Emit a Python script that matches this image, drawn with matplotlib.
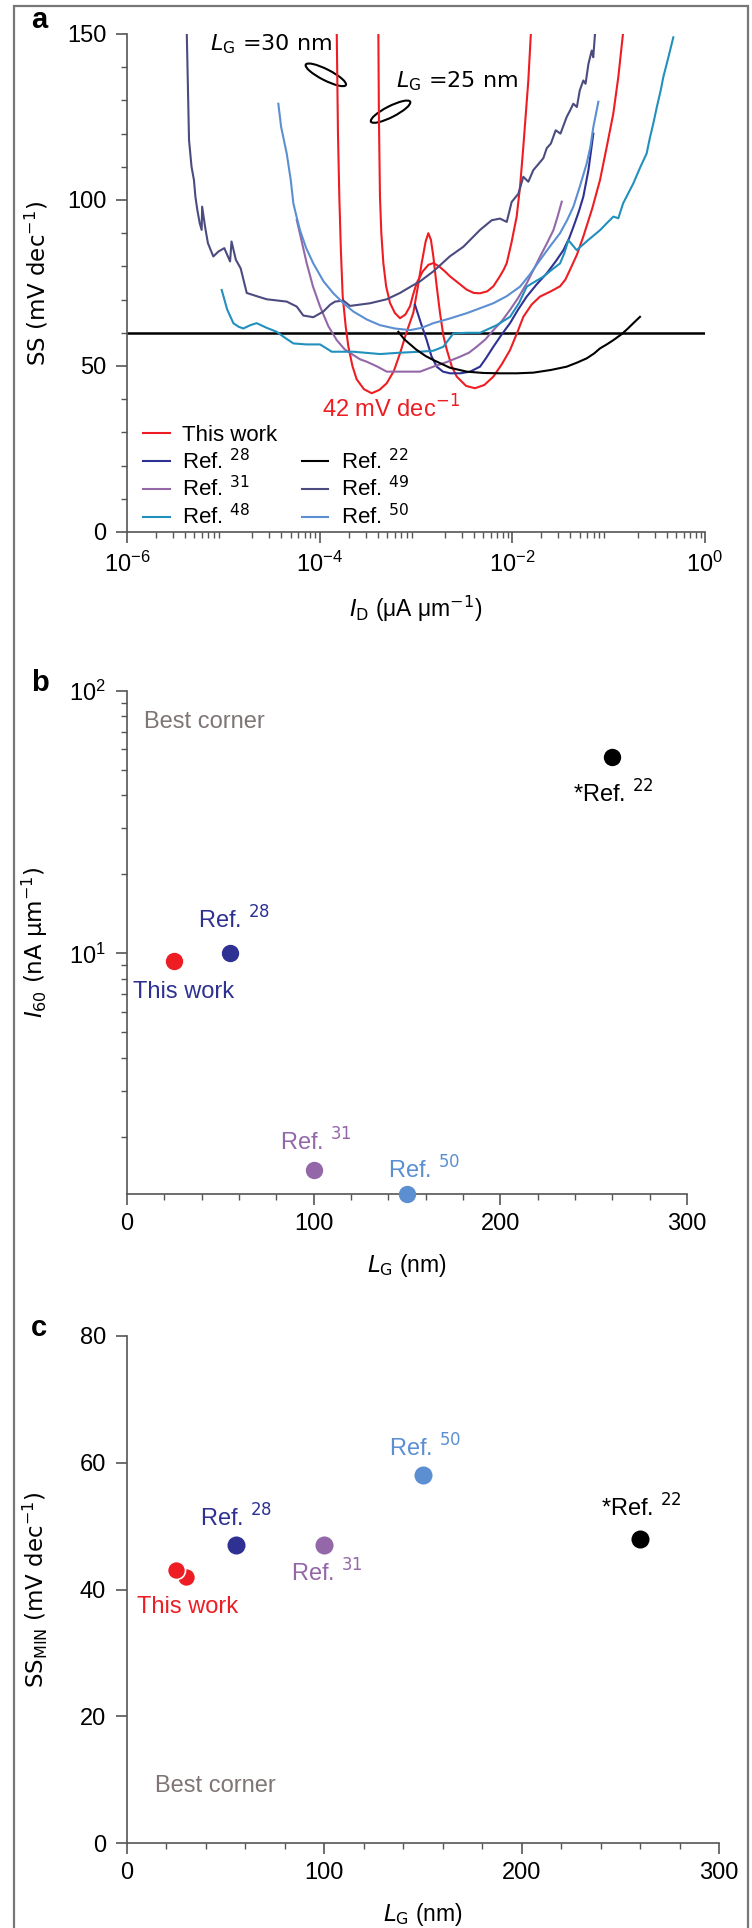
import numpy as np
import matplotlib
matplotlib.use("Agg")
import matplotlib.pyplot as plt
from matplotlib.lines import Line2D
from matplotlib.patches import Ellipse, Rectangle
from matplotlib.ticker import MultipleLocator, LogLocator, NullFormatter, FixedLocator
from matplotlib.transforms import ScaledTranslation


plt.rcParams["font.family"] = ["Liberation Sans", "DejaVu Sans"]
plt.rcParams["mathtext.fontset"] = "dejavusans"

W, H = 752, 1928

# ---------------- panel a : SS vs I_D (log10 of I_D in uA/um) ----------------
this30_logid = [-3.823, -3.81, -3.796, -3.78, -3.761, -3.73, -3.703, -3.66, -3.616, -3.54,
                -3.46, -3.38, -3.304, -3.23, -3.166, -3.10, -3.028, -2.98, -2.941, -2.90,
                -2.872, -2.845, -2.82, -2.785, -2.751, -2.715, -2.681, -2.63, -2.577, -2.48,
                -2.387, -2.29, -2.197, -2.11, -2.024, -1.95, -1.886, -1.80, -1.713, -1.60,
                -1.505, -1.45, -1.401, -1.33, -1.263, -1.17, -1.09, -1.02, -0.952, -0.90, -0.848]
this30_ss = [151, 120, 101, 85, 71, 62, 56, 50, 46, 43,
             41.8, 42.8, 44.8, 48.5, 53.8, 60, 66, 74, 81, 87.5,
             90, 88, 83, 74, 66, 59, 55, 50, 46.8, 44,
             43.3, 44.3, 46.8, 50.5, 54.8, 60, 64.8, 68.5, 70.9, 72.5,
             74, 76, 79, 83.5, 89, 97.5, 106, 116, 126, 137, 151]

this25_logid = [-3.391, -3.385, -3.374, -3.36, -3.339, -3.31, -3.27, -3.22, -3.166, -3.11,
                -3.062, -3.03, -2.993, -2.93, -2.87, -2.82, -2.76, -2.70, -2.647, -2.56,
                -2.474, -2.40, -2.335, -2.26, -2.197, -2.13, -2.09, -2.058, -2.01, -1.955,
                -1.92, -1.886, -1.86, -1.834, -1.806]
this25_ss = [151, 125, 101, 90, 81, 74, 69, 66, 64.4, 65.5,
             68, 71.5, 75, 78.5, 80.5, 81, 80, 78.5, 77, 75,
             73, 72, 71.9, 72.5, 74, 77, 79, 81, 87, 95,
             104, 116, 126, 136, 151]

ref28_logid = [-3.01, -2.95, -2.889, -2.84, -2.785, -2.72, -2.647, -2.54, -2.439, -2.335,
               -2.27, -2.197, -2.11, -2.024, -1.94, -1.851, -1.75, -1.643, -1.55, -1.47,
               -1.41, -1.366, -1.31, -1.263, -1.21, -1.159]
ref28_ss = [68.4, 63, 57.8, 53, 49.8, 48.3, 47.8, 47.8, 48.3, 49.8,
            52.5, 55.8, 59.5, 62.9, 67, 70.9, 74.5, 77.9, 81.5, 84.9,
            88.5, 91.9, 96.5, 101, 109, 120]

ref31_logid = [-4.238, -4.19, -4.135, -4.07, -3.996, -3.91, -3.823, -3.74, -3.65, -3.58,
               -3.512, -3.40, -3.304, -3.13, -2.958, -2.82, -2.68, -2.543, -2.45, -2.37,
               -2.28, -2.197, -2.11, -2.024, -1.94, -1.851, -1.78, -1.713, -1.64, -1.574,
               -1.53, -1.487]
ref31_ss = [94, 88, 81, 74, 67.9, 62, 57.8, 55, 53.3, 52,
            51.3, 49.8, 48.3, 48.3, 48.3, 49.8, 51.2, 52.8, 54, 55.8,
            58, 60.8, 63.5, 66.9, 70.5, 74.9, 79, 82.9, 87, 90.9,
            95, 99.5]

ref48_logid = [-5.017, -4.96, -4.896, -4.84, -4.792, -4.72, -4.654, -4.55, -4.446, -4.36,
               -4.273, -4.14, -3.996, -3.94, -3.875, -3.65, -3.374, -3.17, -2.958, -2.82,
               -2.716, -2.66, -2.612, -2.47, -2.335, -2.162, -2.024, -1.93, -1.851, -1.76,
               -1.678, -1.59, -1.505, -1.46, -1.418, -1.332, -1.21, -1.09, -1.02, -0.951,
               -0.90, -0.85, -0.744, -0.67, -0.606, -0.57, -0.537, -0.50, -0.46, -0.433,
               -0.38, -0.329]
ref48_ss = [72.9, 67, 62.9, 61.8, 61.3, 62.3, 62.9, 61.5, 60.3, 58.5,
            56.8, 56.5, 56.5, 55.5, 54.3, 54.3, 53.6, 54, 54.3, 54.6,
            55.8, 58, 59.8, 60, 60, 62.3, 64.8, 69, 73.9, 75.5,
            76.9, 79, 80.9, 84, 87.9, 84.9, 88, 90.9, 93, 95,
            94.5, 99, 105, 110, 114, 119, 123, 128, 133, 137,
            143, 149]

ref22_logid = [-3.183, -3.12, -3.0, -2.90, -2.82, -2.65, -2.474, -2.30, -2.128, -1.95,
               -1.782, -1.60, -1.436, -1.33, -1.228, -1.15, -1.09, -1.02, -0.951, -0.865,
               -0.80, -0.744, -0.675]
ref22_ss = [60.3, 58, 55, 53, 51.8, 49.5, 48.3, 47.9, 47.8, 47.8,
            48, 48.8, 49.8, 51, 52.3, 53.8, 55.3, 56.5, 57.8, 59.6,
            61.3, 62.9, 64.8]

ref49_logid = [-5.38, -5.356, -5.33, -5.305, -5.29, -5.27, -5.245, -5.225, -5.22, -5.19,
               -5.16, -5.104, -5.05, -4.99, -4.93, -4.915, -4.87, -4.82, -4.757, -4.65,
               -4.55, -4.342, -4.238, -4.17, -4.066, -3.962, -3.89, -3.84, -3.754, -3.685,
               -3.58, -3.477, -3.304, -3.166, -3.05, -2.958, -2.82, -2.65, -2.509, -2.42,
               -2.335, -2.214, -2.128, -2.058, -2.007, -1.937, -1.886, -1.834, -1.782, -1.678,
               -1.643, -1.60, -1.55, -1.50, -1.436, -1.40, -1.367, -1.33, -1.30, -1.263,
               -1.24, -1.21, -1.176, -1.16, -1.142]
ref49_ss = [151, 118, 110, 106, 101, 97, 93, 91, 98, 92,
            87, 83, 84.5, 85.5, 81.5, 87.5, 82, 79.4, 72, 71,
            70.1, 69.4, 67.9, 65.2, 64.7, 66.4, 68.5, 69.4, 69.7, 68.1,
            68.5, 68.9, 70.1, 72, 74, 75.5, 78.5, 83, 85.9, 88.5,
            91, 93.9, 94.4, 93.4, 99.4, 101.9, 107, 105.5, 109, 112.6,
            115.6, 117, 121, 120, 125, 127, 129, 128, 133, 136,
            135, 141, 145, 143, 150]

ref50_logid = [-4.429, -4.40, -4.342, -4.30, -4.273, -4.24, -4.204, -4.14, -4.066, -3.96,
               -3.858, -3.75, -3.65, -3.51, -3.374, -3.22, -3.062, -2.94, -2.82, -2.65,
               -2.474, -2.197, -2.06, -1.92, -1.82, -1.713, -1.61, -1.505, -1.43, -1.366,
               -1.30, -1.228, -1.19, -1.159, -1.107]
ref50_ss = [129, 122, 114, 106, 99, 95, 90.9, 85.5, 80.9, 75.5,
            71.9, 68.8, 66.4, 64, 62.3, 61.3, 60.8, 61.5, 62.9, 64.3,
            65.9, 68.9, 71, 73.9, 77.5, 81.9, 86, 90, 94, 98,
            104, 111, 116, 122, 129.6]

ss_limit = 60

# ---------------- panels b and c ----------------
b_names = ["This work", "Ref. 28", "Ref. 31", "Ref. 50", "Ref. 22"]
b_lg = [25, 55, 100, 150, 260]
b_i60 = [9.35, 10.0, 1.5, 1.21, 56]

c_names = ["This work", "This work", "Ref. 28", "Ref. 31", "Ref. 50", "Ref. 22"]
c_lg = [30, 25, 55, 100, 150, 260]
c_ssmin = [42, 43, 47, 47, 58, 48]

RED = "#EE1D23"
NAVY = "#2E3192"
PURPLE = "#9467A8"
TEAL = "#2290BD"
SLATE = "#4C4B80"
LBLUE = "#5B8FD2"
GRAY = "#555555"
CORNER = "#7F7575"

point_colors = {"This work": RED, "Ref. 28": NAVY, "Ref. 31": PURPLE,
                "Ref. 50": LBLUE, "Ref. 22": "black"}


def px_rect(left, top, right, bottom):
    return [left / W, 1 - bottom / H, (right - left) / W, (bottom - top) / H]


def style_axes(ax, fs=17):
    for side in ["top", "right"]:
        ax.spines[side].set_visible(False)
    for side in ["left", "bottom"]:
        ax.spines[side].set_color(GRAY)
        ax.spines[side].set_linewidth(1.2)
    ax.tick_params(which="major", direction="out", length=8, width=1.2,
                   color=GRAY, labelsize=fs, pad=6)
    ax.tick_params(which="minor", direction="out", length=4, width=1.0, color=GRAY)
    ax.tick_params(axis="y", which="major", pad=7)


def add_ring(ax, xa, ya, w_in, h_in, angle):
    tr = ax.figure.dpi_scale_trans + ScaledTranslation(xa, ya, ax.transAxes)
    ax.add_patch(Ellipse((0, 0), w_in, h_in, angle=angle, transform=tr,
                         fill=False, ec="black", lw=1.5, clip_on=False))


fig = plt.figure(figsize=(W / 100, H / 100), dpi=100)

# ---------------- a ----------------
ax = fig.add_axes(px_rect(127, 34, 705, 532))
ax.set_xscale("log")
ax.axhline(ss_limit, color="black", lw=1.8, zorder=1)
curves = [
    (this30_logid, this30_ss, RED, "This work"),
    (this25_logid, this25_ss, RED, None),
    (ref28_logid, ref28_ss, NAVY, "Ref. $^{28}$"),
    (ref31_logid, ref31_ss, PURPLE, "Ref. $^{31}$"),
    (ref48_logid, ref48_ss, TEAL, "Ref. $^{48}$"),
    (ref22_logid, ref22_ss, "black", "Ref. $^{22}$"),
    (ref49_logid, ref49_ss, SLATE, "Ref. $^{49}$"),
    (ref50_logid, ref50_ss, LBLUE, "Ref. $^{50}$"),
]
handles = {}
for logid, ss, col, lab in curves:
    line, = ax.plot(10 ** np.array(logid), ss, color=col, lw=1.5)
    if lab:
        handles[lab] = line
blank = Line2D([], [], color="none")
order = ["This work", "Ref. $^{28}$", "Ref. $^{31}$", "Ref. $^{48}$",
         None, "Ref. $^{22}$", "Ref. $^{49}$", "Ref. $^{50}$"]
ax.legend([handles[k] if k else blank for k in order],
          [k if k else " " for k in order],
          ncol=2, loc="upper left", bbox_to_anchor=(0.028, 0.215),
          frameon=False, fontsize=16, handlelength=1.2, handletextpad=0.55,
          columnspacing=1.1, labelspacing=0.12, borderpad=0, borderaxespad=0)
ax.set_xlim(1e-6, 1)
ax.set_ylim(0, 150)
ax.set_yticks([0, 50, 100, 150])
ax.yaxis.set_minor_locator(MultipleLocator(10))
ax.xaxis.set_major_locator(FixedLocator([1e-6, 1e-4, 1e-2, 1]))
ax.xaxis.set_minor_locator(LogLocator(base=10, subs=np.arange(2, 10), numticks=20))
ax.xaxis.set_minor_formatter(NullFormatter())
style_axes(ax)
ax.set_ylabel("SS (mV dec$^{-1}$)", fontsize=16.5, family="DejaVu Sans")
ax.set_xlabel("$I_\\mathrm{D}$ (μA μm$^{-1}$)", fontsize=16.5)
ax.yaxis.set_label_coords(-0.133, 0.5)
ax.xaxis.set_label_coords(0.5, -0.125)
ax.text(0.457, 0.229, "42 mV dec$^{-1}$", color=RED, fontsize=17,
        ha="center", va="baseline", transform=ax.transAxes)
ax.text(0.144, 0.968, "$L_\\mathrm{G}$ =30 nm", fontsize=16, family="DejaVu Sans",
        ha="left", va="baseline", transform=ax.transAxes)
ax.text(0.465, 0.892, "$L_\\mathrm{G}$ =25 nm", fontsize=16, family="DejaVu Sans",
        ha="left", va="baseline", transform=ax.transAxes)
add_ring(ax, 0.344, 0.918, 0.45, 0.11, -27)
add_ring(ax, 0.456, 0.844, 0.44, 0.11, 27)

# ---------------- b ----------------
ax = fig.add_axes(px_rect(127, 691, 687, 1194))
ax.set_yscale("log")
for name, x, y in zip(b_names, b_lg, b_i60):
    ax.plot(x, y, "o", ms=12.5, color=point_colors[name], mec="none", clip_on=False, zorder=3)
ax.set_xlim(0, 300)
ax.set_ylim(1.21, 100)
ax.set_xticks([0, 100, 200, 300])
ax.xaxis.set_minor_locator(MultipleLocator(20))
ax.yaxis.set_major_locator(FixedLocator([10, 100]))
ax.yaxis.set_minor_locator(LogLocator(base=10, subs=np.arange(2, 10), numticks=20))
ax.yaxis.set_minor_formatter(NullFormatter())
style_axes(ax)
ax.set_ylabel("$I_\\mathrm{60}$ (nA μm$^{-1}$)", fontsize=16.5, family="DejaVu Sans")
ax.set_xlabel("$L_\\mathrm{G}$ (nm)", fontsize=16.5)
ax.yaxis.set_label_coords(-0.1375, 0.5)
ax.xaxis.set_label_coords(0.5, -0.115)
ax.text(9, 72, "Best corner", color=CORNER, fontsize=17, va="baseline")
ax.text(239, 37.4, "*Ref. $^{22}$", color="black", fontsize=17, va="baseline")
ax.text(38, 12.4, "Ref. $^{28}$", color=NAVY, fontsize=17, va="baseline")
ax.text(3, 6.77, "This work", color=NAVY, fontsize=17, va="baseline")
ax.text(82, 1.77, "Ref. $^{31}$", color=PURPLE, fontsize=17, va="baseline")
ax.text(140, 1.39, "Ref. $^{50}$", color=LBLUE, fontsize=17, va="baseline")

# ---------------- c ----------------
ax = fig.add_axes(px_rect(127, 1336, 719, 1843))
for name, x, y in zip(c_names, c_lg, c_ssmin):
    ax.plot(x, y, "o", ms=13, color=point_colors[name],
            mec="white" if name == "This work" else "none", mew=1.2, clip_on=False, zorder=3)
ax.set_xlim(0, 300)
ax.set_ylim(0, 80)
ax.set_xticks([0, 100, 200, 300])
ax.set_yticks([0, 20, 40, 60, 80])
ax.xaxis.set_minor_locator(MultipleLocator(20))
style_axes(ax)
ax.set_ylabel("SS$_\\mathrm{MIN}$ (mV dec$^{-1}$)", fontsize=16.5, family="DejaVu Sans")
ax.set_xlabel("$L_\\mathrm{G}$ (nm)", fontsize=16.5)
ax.yaxis.set_label_coords(-0.130, 0.5)
ax.xaxis.set_label_coords(0.5, -0.115)
ax.text(14, 8.0, "Best corner", color=CORNER, fontsize=17, va="baseline")
ax.text(37, 50.0, "Ref. $^{28}$", color=NAVY, fontsize=17, va="baseline")
ax.text(83, 41.3, "Ref. $^{31}$", color=PURPLE, fontsize=17, va="baseline")
ax.text(133, 61.0, "Ref. $^{50}$", color=LBLUE, fontsize=17, va="baseline")
ax.text(240, 51.5, "*Ref. $^{22}$", color="black", fontsize=17, va="baseline")
ax.text(5, 36.3, "This work", color=RED, fontsize=17, va="baseline")

# panel letters
for letter, base in [("a", 28), ("b", 691), ("c", 1336)]:
    fig.text(31 / W, 1 - base / H, letter, fontsize=21, fontweight="bold", va="baseline")

# outer frame
fig.patches.append(Rectangle((14 / W, -0.01), 734 / W, 1.01 - 6 / H, transform=fig.transFigure,
                             fill=False, ec="#777777", lw=1.6))

fig.savefig("out.png", dpi=100)
